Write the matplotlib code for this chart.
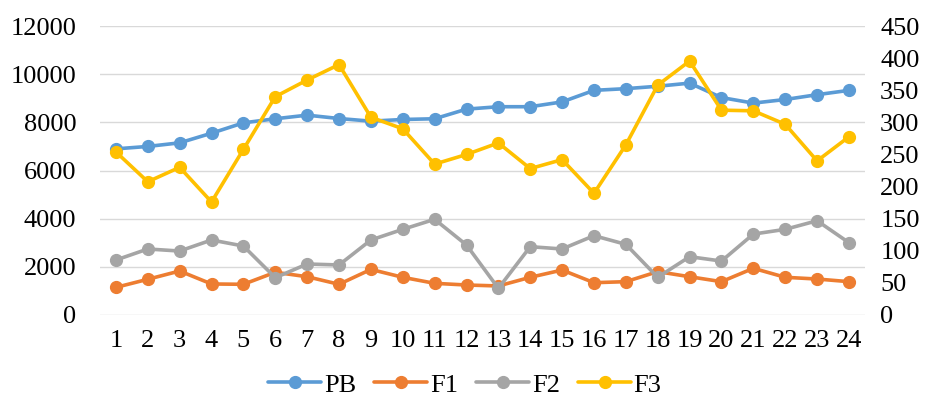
import numpy as np
import matplotlib.pyplot as plt

# data
x = np.arange(1, 25)
pb = [6900, 7000, 7150, 7550, 7980, 8150, 8300, 8160, 8050, 8120, 8150, 8550,
      8650, 8650, 8850, 9330, 9400, 9500, 9630, 9030, 8800, 8950, 9150, 9330]
f1 = [43, 55.6, 68.5, 48.3, 47.8, 66.5, 59.6, 47.8, 71, 58.7, 49.3, 46.7,
      45.2, 58.7, 70, 50.3, 51.9, 67.5, 59.6, 51.9, 72.7, 58.7, 56, 51.9]
f2 = [85.6, 102.8, 99.6, 116.8, 107.4, 58.1, 79.4, 77.9, 116.8, 133.4, 149, 109,
      41.5, 106.4, 102.8, 123.5, 110, 58.7, 90.8, 84, 126, 133.4, 146.8, 112.6]
f3 = [254, 207.5, 230, 176, 258, 340, 366, 390, 308, 290, 235, 250,
      268, 228, 242, 189.5, 265, 358, 395.5, 319, 318, 297, 240, 277.6]

plt.rcParams['font.family'] = ['Liberation Serif', 'DejaVu Serif']
plt.rcParams['font.size'] = 19

fig = plt.figure(figsize=(9.3, 4.01), dpi=100)
ax = fig.add_axes([0.1075, 0.2145, 0.8225, 0.7205])
ax2 = ax.twinx()

style = dict(lw=2.6, marker='o', ms=8.5, solid_capstyle='round')
l1, = ax.plot(x, pb, color='#5B9BD5', label='PB', **style)
l2, = ax2.plot(x, f1, color='#ED7D31', label='F1', **style)
l3, = ax2.plot(x, f2, color='#A5A5A5', label='F2', **style)
l4, = ax2.plot(x, f3, color='#FFC000', label='F3', **style)

ax.set_xlim(0.5, 24.5)
ax.set_ylim(0, 12000)
ax2.set_ylim(0, 450)
ax.set_xticks(x)
ax.set_yticks(np.arange(0, 12001, 2000))
ax2.set_yticks(np.arange(0, 451, 50))
ax.grid(axis='y', color='#d9d9d9', lw=1)
ax.set_axisbelow(True)
for a in (ax, ax2):
    for s in a.spines.values():
        s.set_visible(False)
ax.tick_params(axis='y', length=0, pad=17)
ax.tick_params(axis='x', length=0, pad=11)
ax2.tick_params(axis='y', length=0, pad=11)

fig.legend(handles=[l1, l2, l3, l4], loc='center', bbox_to_anchor=(0.5, 0.04),
           ncol=4, frameon=False, handlelength=2.0, columnspacing=0.7,
           handletextpad=0.1, fontsize=19)

fig.savefig('out.png', dpi=100)
